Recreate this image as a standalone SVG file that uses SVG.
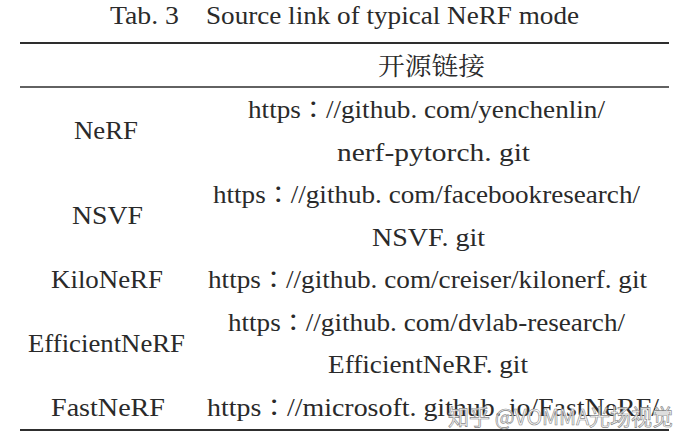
<svg xmlns="http://www.w3.org/2000/svg" width="690" height="444" viewBox="0 0 690 444">
<style>
  .t { font-size: 26px; fill: #2a2a2a; }
  .c { font-family: 'Noto Sans CJK TC', 'Noto Sans CJK JP', 'Noto Sans CJK SC', sans-serif; font-size: 24px; }
  .cjk { font-size: 25px; fill: #2a2a2a; }
  .rule { stroke: #2e2e2e; fill: none; }
  .wm { font-size: 22px; fill: #ffffff; fill-opacity: 0.85; stroke: #8a8a8a; stroke-width: 0.7; }
</style>
<rect width="690" height="444" fill="#ffffff"/>
<g font-family="Liberation Serif, DejaVu Serif, Noto Sans CJK SC, serif">
<g id="title">
  <text class="t" x="110" y="24" textLength="69" lengthAdjust="spacingAndGlyphs">Tab. 3</text>
  <text class="t" x="206" y="24" textLength="373" lengthAdjust="spacingAndGlyphs">Source link of typical NeRF mode</text>
</g>
<g id="row-nerf">
  <text class="t" x="74" y="139" textLength="64" lengthAdjust="spacingAndGlyphs">NeRF</text>
  <text class="t" x="248" y="118" textLength="357" lengthAdjust="spacingAndGlyphs">https<tspan class="c">：</tspan>//github. com/yenchenlin/</text>
  <text class="t" x="337" y="160.5" textLength="193" lengthAdjust="spacingAndGlyphs">nerf-pytorch. git</text>
</g>
<g id="row-nsvf">
  <text class="t" x="72" y="224" textLength="71" lengthAdjust="spacingAndGlyphs">NSVF</text>
  <text class="t" x="213" y="203" textLength="427" lengthAdjust="spacingAndGlyphs">https<tspan class="c">：</tspan>//github. com/facebookresearch/</text>
  <text class="t" x="372" y="245.5" textLength="113" lengthAdjust="spacingAndGlyphs">NSVF. git</text>
</g>
<g id="row-kilonerf">
  <text class="t" x="51" y="288" textLength="112" lengthAdjust="spacingAndGlyphs">KiloNeRF</text>
  <text class="t" x="208" y="288" textLength="439" lengthAdjust="spacingAndGlyphs">https<tspan class="c">：</tspan>//github. com/creiser/kilonerf. git</text>
</g>
<g id="row-efficientnerf">
  <text class="t" x="28" y="352" textLength="157" lengthAdjust="spacingAndGlyphs">EfficientNeRF</text>
  <text class="t" x="228" y="331" textLength="397" lengthAdjust="spacingAndGlyphs">https<tspan class="c">：</tspan>//github. com/dvlab-research/</text>
  <text class="t" x="328" y="373" textLength="200" lengthAdjust="spacingAndGlyphs">EfficientNeRF. git</text>
</g>
<g id="row-fastnerf">
  <text class="t" x="51" y="416" textLength="114" lengthAdjust="spacingAndGlyphs">FastNeRF</text>
  <text class="t" x="207" y="416" textLength="452" lengthAdjust="spacingAndGlyphs">https<tspan class="c">：</tspan>//microsoft. github. io/FastNeRF/</text>
</g>
</g>
<g id="rules">
  <line class="rule" x1="20" y1="43" x2="669" y2="43" stroke-width="2.2"/>
  <line class="rule" x1="20" y1="87" x2="669" y2="87" stroke-width="1.4"/>
  <line class="rule" x1="20" y1="430" x2="669" y2="430" stroke-width="2.2"/>
</g>
<g id="header" font-family="Noto Serif CJK SC, Noto Sans CJK SC, serif">
  <text class="cjk" x="378" y="75" textLength="107" lengthAdjust="spacingAndGlyphs">开源链接</text>
</g>
<g id="watermark" font-family="Noto Sans CJK SC, Liberation Sans, sans-serif">
  <text class="wm" x="448" y="425" textLength="225" lengthAdjust="spacingAndGlyphs">知乎 @VOMMA光场视觉</text>
</g>
</svg>
